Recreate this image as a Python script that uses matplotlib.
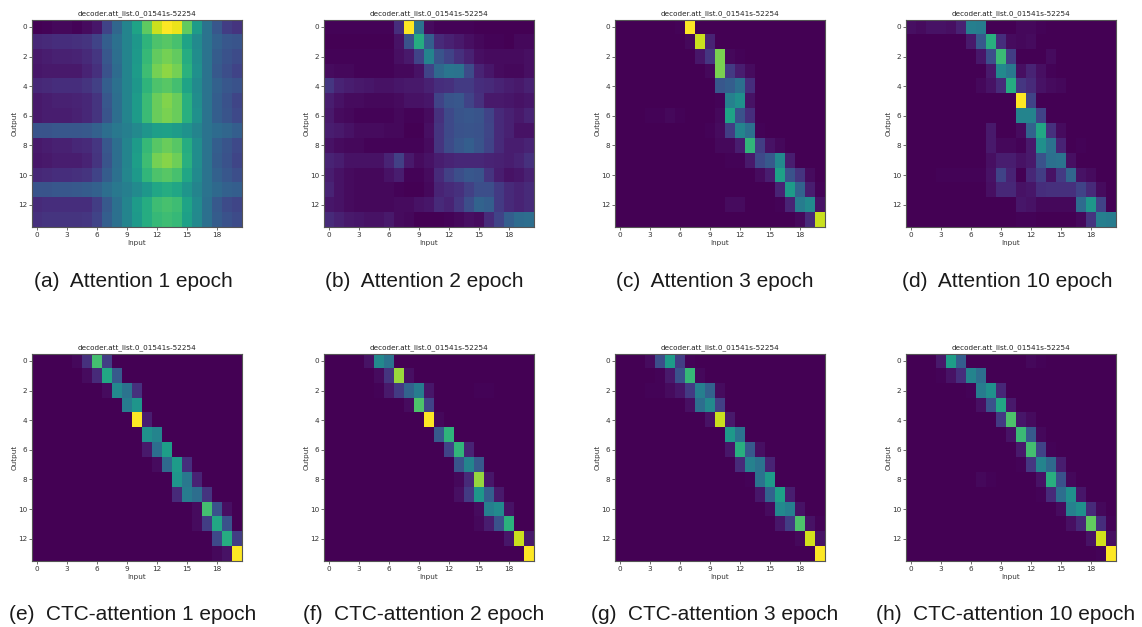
import numpy as np
import matplotlib
matplotlib.use('Agg')
import matplotlib.pyplot as plt

W, H = 1142, 627
N_ROWS, N_COLS = 14, 21
TITLE = 'decoder.att_list.0_01541s-52254'

# attention weights in percent
att_1 = [
    [0, 1, 2, 2, 1, 3, 6, 20, 33, 45, 58, 75, 92, 100, 97, 76, 55, 38, 27, 18, 15],
    [11, 12, 13, 13, 14, 15, 20, 30, 37, 45, 53, 65, 72, 74, 71, 58, 48, 38, 31, 27, 26],
    [7, 8, 9, 9, 10, 12, 16, 27, 36, 45, 54, 67, 76, 79, 76, 62, 49, 38, 29, 25, 23],
    [6, 7, 7, 7, 7, 10, 14, 25, 35, 45, 55, 69, 79, 83, 79, 64, 50, 38, 28, 24, 20],
    [11, 12, 13, 13, 13, 15, 19, 30, 37, 45, 53, 65, 72, 74, 70, 58, 48, 38, 31, 27, 25],
    [7, 8, 9, 9, 10, 11, 15, 27, 36, 45, 55, 68, 77, 81, 77, 63, 49, 38, 30, 25, 21],
    [7, 8, 8, 8, 9, 11, 15, 26, 36, 45, 55, 68, 77, 80, 77, 63, 50, 38, 30, 26, 22],
    [26, 26, 27, 27, 27, 28, 31, 36, 40, 43, 47, 52, 56, 57, 55, 51, 45, 38, 35, 33, 30],
    [7, 8, 9, 9, 11, 12, 16, 27, 36, 45, 55, 67, 74, 77, 74, 62, 49, 38, 30, 26, 22],
    [6, 7, 8, 8, 8, 10, 15, 26, 36, 45, 56, 69, 79, 82, 78, 63, 49, 38, 29, 25, 21],
    [11, 12, 13, 13, 14, 15, 20, 29, 37, 46, 54, 66, 72, 74, 71, 59, 48, 38, 31, 27, 24],
    [26, 26, 27, 27, 28, 29, 31, 36, 40, 43, 48, 53, 59, 62, 59, 52, 45, 38, 34, 31, 30],
    [12, 13, 13, 13, 13, 13, 18, 28, 37, 45, 55, 62, 69, 71, 69, 58, 48, 37, 28, 23, 21],
    [14, 15, 15, 15, 15, 16, 20, 30, 37, 45, 54, 62, 67, 69, 67, 57, 47, 37, 29, 25, 23],
]
att_2 = [
    [1, 1, 1, 1, 1, 1, 1, 13, 100, 38, 3, 1, 1, 1, 1, 0, 0, 0, 0, 0, 0],
    [0, 0, 0, 0, 0, 0, 0, 5, 25, 62, 30, 12, 9, 7, 4, 2, 1, 1, 0, 2, 2],
    [1, 1, 1, 1, 1, 1, 1, 4, 7, 20, 45, 26, 20, 14, 9, 4, 3, 3, 3, 3, 4],
    [3, 2, 2, 1, 1, 1, 1, 2, 2, 5, 20, 34, 39, 38, 23, 10, 6, 3, 2, 2, 4],
    [16, 10, 8, 7, 6, 5, 5, 6, 7, 7, 9, 13, 14, 17, 17, 13, 12, 10, 8, 7, 9],
    [8, 5, 3, 3, 2, 2, 2, 3, 5, 5, 6, 20, 26, 27, 20, 14, 7, 7, 6, 5, 6],
    [7, 3, 2, 1, 1, 1, 1, 2, 1, 1, 3, 14, 22, 26, 27, 26, 20, 12, 9, 7, 10],
    [8, 7, 5, 3, 3, 3, 2, 2, 0, 0, 4, 15, 22, 25, 26, 25, 21, 12, 9, 5, 5],
    [5, 3, 2, 2, 1, 1, 1, 1, 1, 1, 3, 15, 23, 27, 30, 26, 20, 12, 8, 8, 10],
    [10, 8, 5, 5, 5, 5, 10, 19, 7, 3, 5, 8, 10, 11, 11, 11, 10, 9, 8, 10, 14],
    [8, 5, 3, 2, 2, 2, 5, 8, 1, 1, 3, 12, 19, 24, 27, 26, 15, 8, 5, 6, 9],
    [10, 5, 3, 2, 2, 2, 2, 1, 0, 0, 2, 10, 12, 14, 19, 24, 24, 17, 12, 10, 12],
    [6, 5, 3, 2, 2, 2, 2, 3, 3, 5, 6, 12, 10, 16, 24, 32, 30, 17, 12, 10, 12],
    [12, 9, 7, 6, 5, 5, 7, 3, 2, 0, 0, 0, 1, 2, 4, 3, 12, 20, 30, 35, 36],
]

# the later epochs are mostly zero: each row is (first column, values from there on)
att_3 = [
    (6, [1, 100]),
    (7, [2, 92, 10]),
    (8, [6, 16, 80, 2, 1]),
    (9, [2, 80, 17, 8, 3]),
    (10, [27, 30, 37, 13]),
    (10, [1, 44, 50, 5]),
    (3, [1, 1, 2, 1, 0, 0, 0, 2, 58, 25, 13]),
    (9, [1, 3, 18, 45, 37, 1]),
    (10, [2, 2, 8, 66, 18, 5, 2]),
    (11, [1, 1, 7, 22, 28, 47, 8]),
    (14, [3, 8, 57, 25, 15, 3]),
    (16, [10, 55, 32, 8, 1]),
    (11, [3, 3, 0, 0, 0, 1, 10, 42, 48, 5]),
    (18, [2, 12, 92]),
]
att_10 = [
    (0, [4, 3, 5, 5, 4, 9, 43, 42, 0, 0, 0, 2, 2, 1]),
    (6, [7, 28, 63, 13, 3, 2, 3]),
    (7, [6, 24, 68, 18, 0, 0, 0, 3]),
    (8, [7, 47, 40, 4, 10, 4, 1]),
    (7, [2, 5, 12, 62, 16, 12, 5, 3, 2]),
    (11, [100, 20]),
    (11, [45, 45, 20]),
    (8, [7, 0, 0, 3, 32, 60, 14, 3]),
    (8, [7, 2, 2, 1, 7, 50, 38, 10, 0, 1]),
    (8, [4, 8, 8, 5, 7, 25, 37, 38, 4]),
    (3, [1, 1, 1, 1, 1, 5, 20, 10, 0, 11, 18, 5, 17, 33, 5, 3]),
    (8, [4, 11, 11, 5, 6, 13, 14, 14, 14, 20, 12, 3]),
    (11, [6, 5, 2, 2, 2, 2, 35, 53, 20]),
    (11, [1, 1, 0, 0, 0, 0, 2, 15, 43, 42]),
]
ctc_1 = [
    (4, [2, 14, 70, 18]),
    (5, [3, 12, 60, 28]),
    (7, [3, 47, 38, 14]),
    (9, [42, 52]),
    (10, [100, 8]),
    (11, [50, 45]),
    (11, [7, 36, 56]),
    (12, [3, 34, 55, 13]),
    (14, [52, 40, 10]),
    (14, [12, 42, 36, 15]),
    (16, [3, 70, 25, 4]),
    (16, [3, 18, 60, 25]),
    (18, [22, 62, 18]),
    (18, [2, 5, 100]),
]
ctc_2 = [
    (4, [5, 47, 38]),
    (5, [3, 15, 85, 4]),
    (5, [1, 7, 17, 32, 42, 6, 0, 0, 0, 0, 1, 1]),
    (8, [3, 72, 20]),
    (10, [100, 2]),
    (11, [28, 65]),
    (12, [20, 66, 10]),
    (13, [26, 45, 28]),
    (13, [2, 12, 84, 6]),
    (13, [4, 17, 53, 30, 7]),
    (15, [3, 43, 48, 5]),
    (15, [2, 8, 25, 64]),
    (18, [6, 92, 7]),
    (20, [100]),
]
ctc_3 = [
    (3, [3, 24, 55, 18, 1]),
    (4, [1, 7, 25, 67, 2]),
    (3, [1, 1, 3, 6, 17, 43, 31, 3]),
    (7, [4, 36, 47, 19]),
    (9, [5, 92, 7]),
    (11, [54, 38]),
    (11, [6, 63, 28, 4]),
    (12, [12, 44, 38, 10]),
    (13, [1, 38, 55]),
    (14, [6, 32, 57, 8]),
    (15, [3, 47, 43, 5]),
    (16, [6, 18, 72, 5, 1]),
    (18, [2, 93, 5]),
    (20, [100]),
]
ctc_10 = [
    (3, [7, 56, 30, 0, 0, 0, 0, 0, 0, 2, 1]),
    (3, [1, 5, 13, 45, 36]),
    (6, [1, 42, 50, 11]),
    (7, [4, 25, 60, 7]),
    (9, [17, 72, 6, 3]),
    (10, [5, 68, 28, 2]),
    (11, [7, 70, 20, 1]),
    (11, [1, 16, 45, 34, 8]),
    (7, [2, 1, 0, 0, 0, 0, 5, 63, 25, 2]),
    (13, [1, 12, 36, 50, 6]),
    (15, [3, 44, 50, 12, 2]),
    (16, [4, 11, 76, 13, 1]),
    (18, [5, 93, 4]),
    (19, [1, 100]),
]

panels = [att_1, att_2, att_3, att_10, ctc_1, ctc_2, ctc_3, ctc_10]
captions = [
    '(a)  Attention 1 epoch', '(b)  Attention 2 epoch',
    '(c)  Attention 3 epoch', '(d)  Attention 10 epoch',
    '(e)  CTC-attention 1 epoch', '(f)  CTC-attention 2 epoch',
    '(g)  CTC-attention 3 epoch', '(h)  CTC-attention 10 epoch',
]
caption_x = [133, 424, 715, 1007, 133, 424, 715, 1006]
caption_y = [281, 615]
ax_left = [32, 324, 615, 906]
ax_width = 209.5
ax_top = [19.5, 353.5]
ax_height = 207.5


def to_matrix(rows):
    if len(rows[0]) == N_COLS:
        return np.array(rows) / 100.0
    mat = np.zeros((N_ROWS, N_COLS))
    for i, (start, vals) in enumerate(rows):
        mat[i, start:start + len(vals)] = vals
    return mat / 100.0


fig = plt.figure(figsize=(W / 100, H / 100), dpi=100)

for idx, rows in enumerate(panels):
    col, row = idx % 4, idx // 4
    left = ax_left[col] / W
    bottom = 1 - (ax_top[row] + ax_height) / H
    ax = fig.add_axes([left, bottom, ax_width / W, ax_height / H])
    ax.imshow(to_matrix(rows), cmap='viridis', vmin=0, vmax=1, aspect='auto',
              interpolation='nearest')
    ax.set_xticks(range(0, N_COLS, 3))
    ax.set_yticks(range(0, N_ROWS, 2))
    ax.tick_params(labelsize=5.2, length=2, width=0.5, pad=1.5, colors='#333333')
    ax.set_xlabel('Input', fontsize=5.2, labelpad=1.5, color='#333333')
    ax.set_ylabel('Output', fontsize=5.2, labelpad=0.5, color='#333333')
    ax.set_title(TITLE, fontsize=5.2, pad=3.2, color='#222222')
    for spine in ax.spines.values():
        spine.set_linewidth(0.8)
        spine.set_color('#555555')
    fig.text(caption_x[idx] / W, 1 - caption_y[row] / H, captions[idx],
             family='Liberation Sans', fontsize=15, color='#1a1a1a',
             ha='center', va='center')

fig.savefig('out.png', dpi=100)
